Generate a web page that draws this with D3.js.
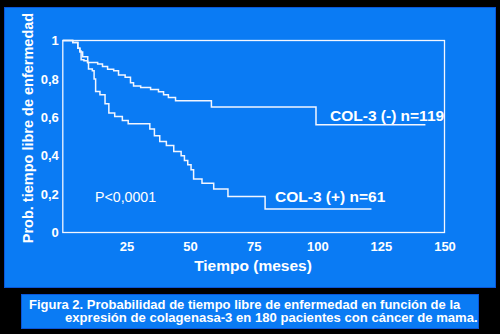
<!DOCTYPE html>
<html><head><meta charset="utf-8">
<script src="https://cdn.jsdelivr.net/npm/d3@7"></script>
<style>
html,body{margin:0;padding:0;background:#000;}
svg{display:block;}
text{font-family:"Liberation Sans",Arial,sans-serif;fill:#fff;}
</style></head>
<body>
<svg id="chart" width="500" height="334"></svg>
<script>
// ---- data ----
const xTicks = [25, 50, 75, 100, 125, 150];
const yTicks = [0, 0.2, 0.4, 0.6, 0.8, 1];
const negTime = [0, 3.9, 5.9, 6.7, 7.8, 9.8, 13.7, 15.6, 17.6, 20, 21.9, 24.5, 26.6, 27.8, 30.6, 34.5, 37.6, 39.6, 41.5, 44.3, 58.4, 99.5, 142.5];
const negSurv = [1, 0.99, 0.96, 0.94, 0.915, 0.885, 0.877, 0.865, 0.85, 0.842, 0.82, 0.808, 0.78, 0.763, 0.755, 0.745, 0.733, 0.718, 0.703, 0.686, 0.654, 0.561, 0.561];
const posTime = [0, 3.9, 5.9, 6.7, 7.2, 8.3, 9.7, 10.1, 11.6, 12.3, 12.9, 14.6, 16.6, 18.1, 20.4, 23.4, 25.7, 34.2, 36, 38.1, 40.7, 43.6, 46.5, 47.8, 49.1, 50.4, 51.4, 54.7, 59.3, 64.9, 79.5, 121.3];
const posSurv = [1, 0.99, 0.96, 0.945, 0.90, 0.894, 0.885, 0.851, 0.842, 0.80, 0.734, 0.717, 0.67, 0.622, 0.604, 0.583, 0.566, 0.539, 0.504, 0.474, 0.453, 0.422, 0.40, 0.375, 0.353, 0.327, 0.278, 0.257, 0.226, 0.188, 0.123, 0.123];
const seriesLabels = ["COL-3 (-) n=119", "COL-3 (+) n=61"];
const pText = "P<0,0001";
const xTitle = "Tiempo (meses)";
const yTitle = "Prob. tiempo libre de enfermedad";
const caption = ["Figura 2. Probabilidad de tiempo libre de enfermedad en función de la",
                 "expresión de colagenasa-3 en 180 pacientes con cáncer de mama."];

// ---- drawing ----
const svg = d3.select("#chart");
const blue = "#0a7bf4";
svg.append("rect").attr("x",0).attr("y",0).attr("width",500).attr("height",334).attr("fill","#000");
svg.append("rect").attr("x",4.5).attr("y",7.5).attr("width",491).attr("height",280)
  .attr("fill",blue).attr("stroke","#0a56d8").attr("stroke-width",1);

const x = d3.scaleLinear().domain([0,150]).range([62.8,444.5]);
const y = d3.scaleLinear().domain([0,1]).range([232.5,40.5]);
const loc = d3.formatLocale({decimal:",", thousands:".", grouping:[3], currency:["","€"]});
const yfmt = d => d === 0 ? "0" : d === 1 ? "1" : loc.format(".1f")(d);

const lineCol = "#f2f6ff";
const bold = sel => sel.style("font-weight","bold");
// frame
svg.append("rect").attr("x",x(0)).attr("y",y(1)).attr("width",x(150)-x(0)).attr("height",y(0)-y(1))
  .attr("fill","none").attr("stroke",lineCol).attr("stroke-width",1.3);

// axes (labels only)
const gx = svg.append("g").attr("transform",`translate(0,${y(0)})`)
  .call(d3.axisBottom(x).tickValues(xTicks).tickSize(0).tickPadding(9));
gx.select(".domain").remove();
gx.selectAll("text").attr("font-size","13px").attr("fill","#fff").attr("font-family","Liberation Sans, Arial, sans-serif").style("font-weight","bold");

const gy = svg.append("g").attr("transform",`translate(${x(0)},0)`)
  .call(d3.axisLeft(y).tickValues(yTicks).tickFormat(yfmt).tickSize(0).tickPadding(4));
gy.select(".domain").remove();
gy.selectAll("text").attr("font-size","13px").attr("fill","#fff").attr("font-family","Liberation Sans, Arial, sans-serif").style("font-weight","bold");

// curves
const line = d3.line().x(d=>x(d[0])).y(d=>y(d[1])).curve(d3.curveStepAfter);
const neg = negTime.map((t,i)=>[t,negSurv[i]]);
const pos = posTime.map((t,i)=>[t,posSurv[i]]);
[neg,pos].forEach(s=>{
  svg.append("path").attr("d",line(s)).attr("fill","none").attr("stroke",lineCol).attr("stroke-width",1.5);
});

// labels
svg.append("text").attr("x",330).attr("y",120.5).attr("font-size","15.5px").call(bold).text(seriesLabels[0]);
svg.append("text").attr("x",275).attr("y",201.5).attr("font-size","15.5px").call(bold).text(seriesLabels[1]);
svg.append("text").attr("x",95).attr("y",201.5).attr("font-size","14.2px").style("font-weight","normal").text(pText);

svg.append("text").attr("x",253).attr("y",270.5).attr("text-anchor","middle").attr("font-size","15.5px").call(bold).text(xTitle);
svg.append("text").attr("transform","translate(33,128) rotate(-90)").attr("text-anchor","middle").attr("font-size","14.5px").call(bold).text(yTitle);

// caption
svg.append("rect").attr("x",21.5).attr("y",294.5).attr("width",457).attr("height",34)
  .attr("fill",blue).attr("stroke","#0a56d8").attr("stroke-width",1);
svg.append("text").attr("x",29).attr("y",308.5).attr("font-size","13px").call(bold).text(caption[0]);
svg.append("text").attr("x",65).attr("y",322).attr("font-size","13.1px").call(bold).text(caption[1]);
</script>
</body></html>
